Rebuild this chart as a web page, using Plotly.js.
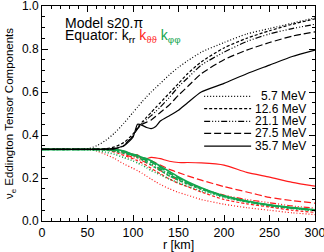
<!DOCTYPE html>
<html><head><meta charset="utf-8">
<script src="https://cdn.plot.ly/plotly-3.0.1.min.js"></script>
<style>html,body{margin:0;padding:0;background:#fff}#plot{width:324px;height:252px}</style>
</head><body><div id="plot"></div>
<script>
// radius grid [km]
const r = [0,10,20,30,40,50,60,70,80,90,100,105,110,115,120,125,130,140,150,160,175,200,225,250,275,300];
const energies = ['5.7 MeV','12.6 MeV','21.1 MeV','27.5 MeV','35.7 MeV'];
// k_rr (black)
const krr_5 = [0.333,0.333,0.333,0.333,0.333,0.335,0.35,0.375,0.41,0.455,0.505,0.53,0.555,0.578,0.60,0.62,0.64,0.68,0.715,0.745,0.785,0.83,0.87,0.895,0.92,0.945];
const krr_12 = [0.333,0.333,0.333,0.333,0.333,0.333,0.334,0.336,0.345,0.365,0.405,0.435,0.46,0.483,0.505,0.528,0.55,0.595,0.64,0.685,0.74,0.805,0.85,0.885,0.915,0.94];
const krr_21 = [0.333,0.333,0.333,0.333,0.333,0.333,0.333,0.334,0.337,0.352,0.40,0.43,0.455,0.473,0.49,0.51,0.53,0.575,0.625,0.665,0.725,0.785,0.835,0.87,0.895,0.915];
const krr_27 = [0.333,0.333,0.333,0.333,0.333,0.333,0.333,0.334,0.336,0.35,0.395,0.43,0.45,0.46,0.47,0.487,0.505,0.54,0.585,0.625,0.685,0.75,0.795,0.83,0.86,0.88];
const krr_35 = [0.333,0.333,0.333,0.333,0.333,0.333,0.333,0.334,0.338,0.35,0.39,0.45,0.445,0.435,0.43,0.44,0.465,0.49,0.515,0.55,0.60,0.64,0.685,0.725,0.765,0.795];
// k_thetatheta (red)
const ktt_5 = [0.333,0.333,0.333,0.333,0.333,0.333,0.325,0.31,0.29,0.265,0.245,0.234,0.222,0.208,0.195,0.182,0.17,0.15,0.133,0.12,0.10,0.078,0.062,0.05,0.038,0.03];
const ktt_12 = [0.333,0.333,0.333,0.333,0.333,0.333,0.333,0.33,0.32,0.305,0.29,0.28,0.27,0.258,0.245,0.232,0.22,0.195,0.175,0.16,0.135,0.10,0.08,0.065,0.05,0.04];
const ktt_21 = [0.333,0.333,0.333,0.333,0.333,0.333,0.333,0.332,0.325,0.312,0.295,0.288,0.28,0.27,0.26,0.248,0.235,0.21,0.19,0.175,0.15,0.12,0.10,0.085,0.07,0.06];
const ktt_27 = [0.333,0.333,0.333,0.333,0.333,0.333,0.333,0.333,0.33,0.32,0.305,0.30,0.295,0.288,0.28,0.27,0.26,0.24,0.225,0.21,0.19,0.16,0.135,0.11,0.095,0.083];
const ktt_35 = [0.333,0.333,0.333,0.333,0.333,0.333,0.333,0.333,0.333,0.325,0.31,0.308,0.285,0.29,0.296,0.294,0.29,0.278,0.272,0.272,0.27,0.26,0.226,0.204,0.18,0.162];
// k_phiphi (green)
const kpp_5 = [0.333,0.333,0.333,0.333,0.333,0.333,0.328,0.32,0.31,0.295,0.28,0.27,0.26,0.248,0.235,0.225,0.215,0.195,0.178,0.162,0.14,0.11,0.088,0.07,0.058,0.048];
const kpp_12 = [0.333,0.333,0.333,0.333,0.333,0.333,0.333,0.33,0.325,0.315,0.305,0.295,0.285,0.272,0.26,0.247,0.235,0.21,0.19,0.172,0.148,0.113,0.09,0.072,0.06,0.05];
const kpp_21 = [0.333,0.333,0.333,0.333,0.333,0.333,0.333,0.332,0.328,0.318,0.305,0.298,0.29,0.28,0.268,0.255,0.242,0.216,0.195,0.175,0.15,0.115,0.091,0.073,0.06,0.05];
const kpp_27 = [0.333,0.333,0.333,0.333,0.333,0.333,0.333,0.333,0.33,0.322,0.308,0.302,0.295,0.285,0.274,0.262,0.25,0.222,0.2,0.178,0.152,0.116,0.092,0.074,0.061,0.051];
const kpp_35 = [0.333,0.333,0.333,0.333,0.333,0.333,0.333,0.333,0.333,0.325,0.31,0.305,0.295,0.29,0.28,0.268,0.255,0.23,0.205,0.183,0.155,0.117,0.093,0.075,0.062,0.052];

const dashes = ['1px,2px','3px,2px','6px,2px,1px,2px,1px,2px,1px,2px','7px,3px','solid'];
const RED = '#ff1a1a', GREEN = '#12a54e', BLACK = '#000000';
const sets = [
  {data:[krr_5,krr_12,krr_21,krr_27,krr_35], color:BLACK, w:1.2},
  {data:[ktt_5,ktt_12,ktt_21,ktt_27,ktt_35], color:RED, w:1.2},
  {data:[kpp_5,kpp_12,kpp_21,kpp_27,kpp_35], color:GREEN, w:1.6}
];
const traces = [];
[sets[1], sets[2], sets[0]].forEach(s => {
  s.data.forEach((ys, i) => {
    traces.push({x:r, y:ys, type:'scatter', mode:'lines', name:energies[i], showlegend:false,
      line:{color:s.color, width:s.w, dash:dashes[i], shape:'spline', smoothing:0.6}});
  });
});

const FONT = 'Liberation Sans, Arial, sans-serif';
const annotations = [
  {xref:'paper', yref:'paper', x:0.078, y:0.92, xanchor:'left', yanchor:'middle', showarrow:false,
   text:'Model s20.π', font:{family:FONT, size:14, color:'#000'}},
  {xref:'paper', yref:'paper', x:0.078, y:0.86, xanchor:'left', yanchor:'middle', showarrow:false,
   text:'Equator: k<sub>rr</sub> <span style="color:'+RED+'">k<sub>ϑϑ</sub></span> <span style="color:'+GREEN+'">k<sub>φφ</sub></span>',
   font:{family:FONT, size:14, color:'#000'}}
];
const shapes = [];
// legend (lower right inside plot)
const legY = [0.58, 0.523, 0.463, 0.408, 0.348];
energies.forEach((e, i) => {
  annotations.push({xref:'paper', yref:'paper', x:0.975, y:legY[i], xanchor:'right', yanchor:'middle',
    showarrow:false, text:e, font:{family:FONT, size:12, color:'#000'}});
  shapes.push({type:'line', xref:'paper', yref:'paper', x0:0.594, x1:0.766, y0:legY[i], y1:legY[i],
    line:{color:'#000', width:1.2, dash:dashes[i]}});
});

const layout = {
  width:324, height:252, margin:{l:42, r:9, t:6, b:31},
  paper_bgcolor:'#fff', plot_bgcolor:'#fff', showlegend:false,
  font:{family:FONT, size:12, color:'#000'},
  xaxis:{range:[0,300], tick0:0, dtick:50, ticks:'inside', ticklen:6, tickcolor:'#000', tickwidth:1,
    showline:true, linecolor:'#000', linewidth:1, mirror:'allticks', showgrid:false, zeroline:false,
    ticklabeloverflow:'allow',
    minor:{dtick:10, ticks:'inside', ticklen:3, tickcolor:'#000', showgrid:false},
    tickfont:{size:12.5}, title:{text:'r [km]', font:{size:12.5}, standoff:4}},
  yaxis:{range:[0,1], tick0:0, dtick:0.2, tickformat:'.1f', ticks:'inside', ticklen:6, tickcolor:'#000', tickwidth:1,
    showline:true, linecolor:'#000', linewidth:1, mirror:'allticks', showgrid:false, zeroline:false,
    ticklabeloverflow:'allow',
    minor:{dtick:0.05, ticks:'inside', ticklen:3, tickcolor:'#000', showgrid:false},
    tickfont:{size:12}, title:{text:'ν<sub>e</sub> Eddington Tensor Components', font:{size:11.5}, standoff:5}},
  annotations:annotations, shapes:shapes
};
Plotly.newPlot('plot', traces, layout, {displayModeBar:false, staticPlot:true});
</script></body></html>
